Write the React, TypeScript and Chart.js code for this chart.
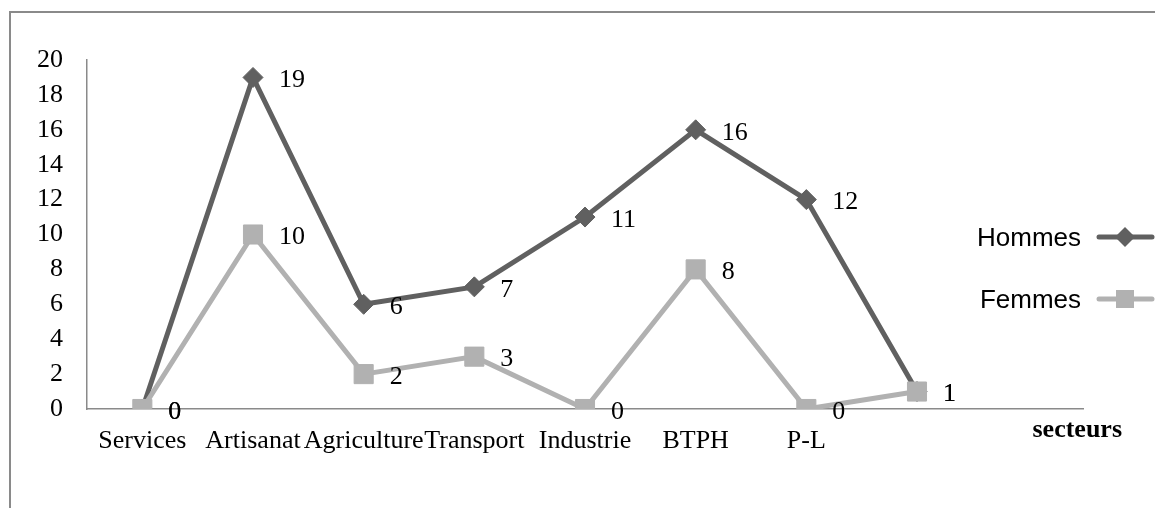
import React, { useEffect, useRef } from 'react';
import { Chart, registerables } from 'chart.js';

Chart.register(...registerables);

const categories = ['Services', 'Artisanat', 'Agriculture', 'Transport', 'Industrie', 'BTPH', 'P-L', '', ''];
const hommes = [0, 19, 6, 7, 11, 16, 12, 1];
const femmes = [0, 10, 2, 3, 0, 8, 0, 1];
const seriesNames = ['Hommes', 'Femmes'];
const axisTitle = 'secteurs';
const yMin = 0;
const yMax = 20;
const yStep = 2;

const DARK = '#606060';
const LIGHT = '#b1b1b1';
const SERIF = '"Liberation Serif", "Times New Roman", serif';
const SANS = '"Liberation Sans", Arial, sans-serif';

const overlayPlugin = {
  id: 'overlay',
  afterDatasetsDraw(chart: any) {
    const ctx = chart.ctx as CanvasRenderingContext2D;
    ctx.save();
    // value labels
    ctx.font = `26px ${SERIF}`;
    ctx.fillStyle = '#000';
    ctx.textAlign = 'left';
    ctx.textBaseline = 'middle';
    chart.data.datasets.forEach((ds: any, i: number) => {
      const meta = chart.getDatasetMeta(i);
      meta.data.forEach((pt: any, j: number) => {
        const v = ds.data[j];
        if (v === null || v === undefined) return;
        ctx.fillText(String(v), pt.x + 26, pt.y + 3);
      });
    });
    // axis title
    const area = chart.chartArea;
    ctx.font = `bold 26px ${SERIF}`;
    ctx.textAlign = 'right';
    ctx.textBaseline = 'alphabetic';
    ctx.fillText(axisTitle, area.right + 39, area.bottom + 28);

    // legend
    const items = [
      { name: seriesNames[0], color: DARK, shape: 'diamond', y: 237 },
      { name: seriesNames[1], color: LIGHT, shape: 'square', y: 299 },
    ];
    items.forEach((it) => {
      ctx.font = `26px ${SANS}`;
      ctx.fillStyle = '#000';
      ctx.textAlign = 'right';
      ctx.textBaseline = 'middle';
      ctx.fillText(it.name, 1081, it.y + 2);
      ctx.strokeStyle = it.color;
      ctx.lineWidth = 5;
      ctx.lineCap = 'round';
      ctx.beginPath();
      ctx.moveTo(1099, it.y);
      ctx.lineTo(1152, it.y);
      ctx.stroke();
      ctx.fillStyle = it.color;
      ctx.beginPath();
      if (it.shape === 'diamond') {
        const r = 10;
        ctx.moveTo(1125, it.y - r);
        ctx.lineTo(1125 + r, it.y);
        ctx.lineTo(1125, it.y + r);
        ctx.lineTo(1125 - r, it.y);
        ctx.closePath();
      } else {
        ctx.rect(1116, it.y - 9, 18, 18);
      }
      ctx.fill();
    });
    ctx.restore();
  },
};

export default function App() {
  const canvasRef = useRef<HTMLCanvasElement | null>(null);

  useEffect(() => {
    if (!canvasRef.current) return;
    const chart = new Chart(canvasRef.current, {
      type: 'line',
      data: {
        labels: categories,
        datasets: [
          {
            label: seriesNames[0],
            data: hommes,
            borderColor: DARK,
            backgroundColor: DARK,
            borderWidth: 5,
            pointStyle: 'rectRot',
            pointRadius: 10,
            pointBorderWidth: 1,
            pointBorderColor: DARK,
            pointBackgroundColor: DARK,
            tension: 0,
            order: 1,
          },
          {
            label: seriesNames[1],
            data: femmes,
            borderColor: LIGHT,
            backgroundColor: LIGHT,
            borderWidth: 5,
            pointStyle: 'rect',
            pointRadius: 13.5,
            pointBorderWidth: 1,
            pointBorderColor: LIGHT,
            pointBackgroundColor: LIGHT,
            tension: 0,
            order: 0,
          },
        ],
      },
      options: {
        responsive: false,
        animation: false,
        devicePixelRatio: 1,
        layout: { padding: { left: 13, top: 60, right: 72, bottom: 33.8 } },
        plugins: {
          legend: { display: false },
          tooltip: { enabled: false },
          title: { display: false },
        },
        scales: {
          x: {
            type: 'category',
            offset: true,
            grid: { display: false, drawTicks: false },
            border: { display: true, color: '#8a8a8a', width: 1.5 },
            ticks: {
              color: '#000',
              font: { family: SERIF, size: 26 },
              padding: 17,
              maxRotation: 0,
              minRotation: 0,
              autoSkip: false,
            },
          },
          y: {
            min: yMin,
            max: yMax,
            grid: { display: false, drawTicks: false },
            border: { display: true, color: '#8a8a8a', width: 1.5 },
            ticks: {
              stepSize: yStep,
              color: '#000',
              font: { family: SERIF, size: 26 },
              padding: 24,
              autoSkip: false,
            },
          },
        },
      },
      plugins: [overlayPlugin],
    });
    return () => chart.destroy();
  }, []);

  return (
    <div style={{ position: 'fixed', left: 0, top: 0, width: 1155, height: 508, background: '#fff', overflow: 'hidden' }}>
      <div
        style={{
          position: 'absolute',
          left: 9,
          top: 11,
          width: 1200,
          height: 600,
          borderTop: '2px solid #8a8a8a',
          borderLeft: '2px solid #8a8a8a',
        }}
      />
      <canvas ref={canvasRef} width={1155} height={508} style={{ position: 'absolute', left: 0, top: 0, width: 1155, height: 508 }} />
    </div>
  );
}
